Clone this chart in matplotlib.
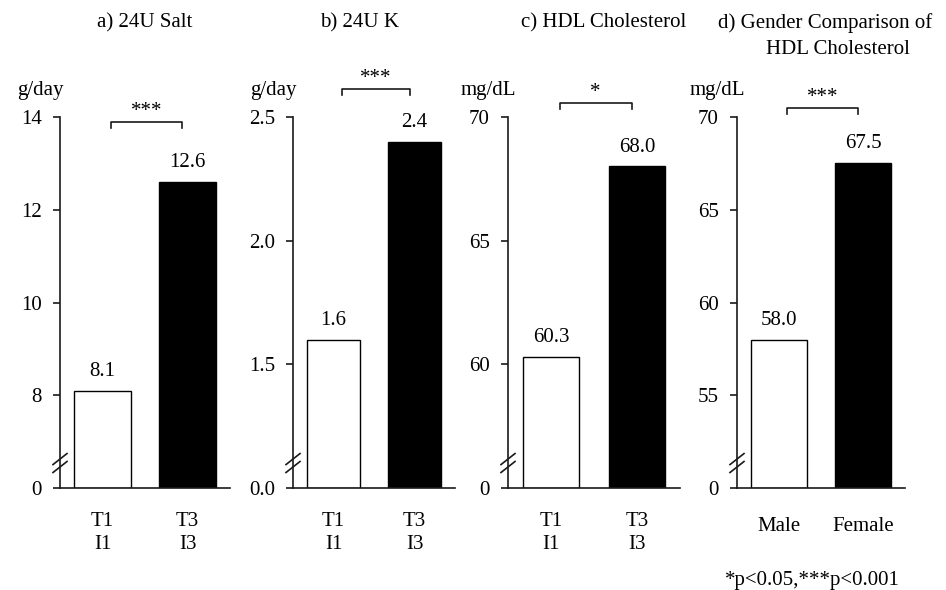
import matplotlib.pyplot as plt

plt.rcParams['font.family'] = ['Liberation Serif', 'DejaVu Serif']
plt.rcParams['font.size'] = 15

# data
time_labels = ["T1\nI1", "T3\nI3"]
gender_labels = ["Male", "Female"]
salt = [8.1, 12.6]
potassium = [1.6, 2.4]
hdl = [60.3, 68.0]
hdl_gender = [58.0, 67.5]

titles = ["a) 24U Salt", "b) 24U K", "c) HDL Cholesterol",
          "d) Gender Comparison of", "HDL Cholesterol"]
units = ["g/day", "g/day", "mg/dL", "mg/dL"]
yticks = [[6, 8, 10, 12, 14], [1.0, 1.5, 2.0, 2.5], [55, 60, 65, 70],
          [50, 55, 60, 65, 70]]
yticklabels = [["0", "8", "10", "12", "14"], ["0.0", "1.5", "2.0", "2.5"],
               ["0", "60", "65", "70"], ["0", "55", "60", "65", "70"]]
stars = ["***", "***", "*", "***"]

values = [salt, potassium, hdl, hdl_gender]
xlabels = [time_labels, time_labels, time_labels, gender_labels]

W, H = 946, 590
fig = plt.figure(figsize=(W / 100, H / 100), dpi=100)

lefts = [60, 293, 508, 737]
widths = [170, 162, 172, 168]
bot_px, top_px = 488, 117
title_pos = [(145, 23, 'center'), (360, 23, 'center'), (604, 23, 'center'),
             (932, 23, 'right'), (838, 50, 'center')]
bracket_y = [0.987, 1.075, 1.038, 1.024]
ink = '#1a1a1a'

for i in range(4):
    ax = fig.add_axes([lefts[i] / W, 1 - bot_px / H, widths[i] / W,
                       (bot_px - top_px) / H])
    base = yticks[i][0]
    vals = values[i]
    x = list(range(len(vals)))
    ax.bar(x, [v - base for v in vals], bottom=base, width=0.66,
           color=['white', 'black'], edgecolor='black', linewidth=1)
    ax.set_xlim(-0.5, 1.5)
    ax.set_ylim(base, yticks[i][-1])
    ax.set_yticks(yticks[i])
    ax.set_yticklabels(yticklabels[i])
    ax.set_xticks(x)
    ax.set_xticklabels(xlabels[i], linespacing=1.3)
    for s in ['top', 'right']:
        ax.spines[s].set_visible(False)
    for s in ['left', 'bottom']:
        ax.spines[s].set_color(ink)
        ax.spines[s].set_linewidth(1.2)
    ax.tick_params(axis='y', direction='out', length=5, width=1.2,
                   color=ink, pad=8)
    ax.tick_params(axis='x', length=0, pad=21 if i == 3 else 17)

    for xi, v in zip(x, vals):
        ax.annotate(f"{v:.1f}", (xi, v), xytext=(0, 14),
                    textcoords='offset points', ha='center', va='center')

    # significance bracket
    by = bracket_y[i]
    leg = 6 / (bot_px - top_px)
    ax.plot([0.1, 0.1, 0.94, 0.94], [by - leg, by, by, by - leg],
            color=ink, lw=1.2, clip_on=False,
            transform=ax.get_xaxis_transform())
    ax.text(0.52, by + 0.003, stars[i], ha='center', va='bottom',
            transform=ax.get_xaxis_transform())

    # axis break marks
    dx = 7 / widths[i]
    dy = 5.5 / (bot_px - top_px)
    for yc in [0.0566, 0.078]:
        ax.plot([-dx, dx], [yc - dy, yc + dy], color=ink, lw=1.2,
                clip_on=False, transform=ax.transAxes)

    # unit label
    fig.text((lefts[i] - 20) / W, 1 - 91 / H, units[i], ha='center',
             va='center')

for t, (tx, ty, ha) in zip(titles, title_pos):
    fig.text(tx / W, 1 - ty / H, t, ha=ha, va='center')

fig.text(900 / W, 1 - 580 / H, "*p<0.05,***p<0.001", ha='right',
         va='center')

fig.savefig("out.png", dpi=100)
